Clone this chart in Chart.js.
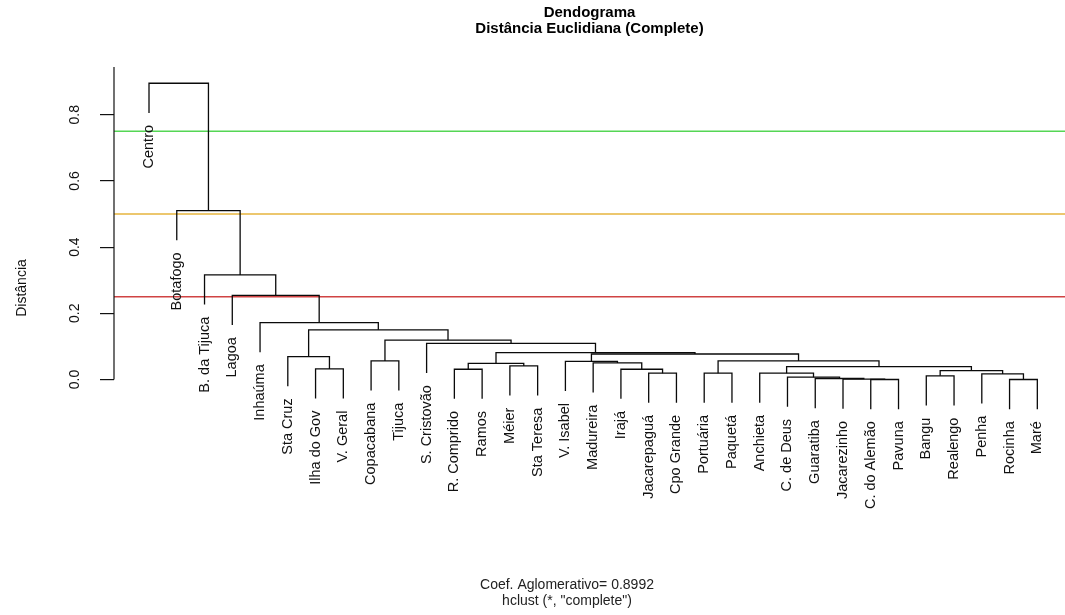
<!DOCTYPE html>
<html>
<head>
<meta charset="utf-8">
<script src="https://cdn.jsdelivr.net/npm/chart.js@4.4.1/dist/chart.umd.min.js"></script>
<style>
  html, body { margin: 0; padding: 0; background: #ffffff; }
  #wrap { width: 1065px; height: 615px; position: relative; }
</style>
</head>
<body>
<div id="wrap"><canvas id="c" width="1065" height="615"></canvas></div>
<script>
// ---------------- DATA ----------------
const titleLines = ["Dendograma", "Distância Euclidiana (Complete)"];
const subLines = ["Coef. Aglomerativo= 0.8992", 'hclust (*, "complete")'];
const yAxisTitle = "Distância";
const yTickValues = [0, 0.2, 0.4, 0.6, 0.8];

// leaves in plotted order (left to right)
const leafLabels = ["Centro", "Botafogo", "B. da Tijuca", "Lagoa", "Inhaúma", "Sta Cruz",
  "Ilha do Gov", "V. Geral", "Copacabana", "Tijuca", "S. Cristovão", "R. Comprido", "Ramos",
  "Méier", "Sta Teresa", "V. Isabel", "Madureira", "Irajá", "Jacarepaguá", "Cpo Grande",
  "Portuária", "Paquetá", "Anchieta", "C. de Deus", "Guaratiba", "Jacarezinho", "C. do Alemão",
  "Pavuna", "Bangu", "Realengo", "Penha", "Rocinha", "Maré"];

// merges: a string is a leaf, a number is an earlier merge
const mergeLeft = ["C. do Alemão", "Rocinha", "Jacarezinho", "Guaratiba", "C. de Deus", "Bangu",
  "Penha", "Anchieta", "Portuária", "Jacarepaguá", 5, "R. Comprido", "Irajá", "Ilha do Gov", 7,
  "Méier", 11, "Madureira", "V. Isabel", 8, "Copacabana", "Sta Cruz", 18, 16, "S. Cristovão",
  20, 21, "Inhaúma", "Lagoa", "B. da Tijuca", "Botafogo", "Centro"];
const mergeRight = ["Pavuna", "Maré", 0, 2, 3, "Realengo", 1, 4, "Paquetá", "Cpo Grande", 6,
  "Ramos", 9, "V. Geral", 10, "Sta Teresa", 15, 12, 17, 14, "Tijuca", 13, 19, 22, 23, 24, 25,
  26, 27, 28, 29, 30];
const mergeHeights = [0.000, 0.000, 0.001, 0.003, 0.007, 0.011, 0.017, 0.019, 0.019, 0.019,
  0.027, 0.031, 0.031, 0.032, 0.039, 0.041, 0.049, 0.050, 0.055, 0.056, 0.056, 0.069, 0.077,
  0.081, 0.109, 0.119, 0.150, 0.172, 0.254, 0.316, 0.510, 0.895];

const cutHeights = [0.75, 0.5, 0.25];
const cutColors = ["#55d655", "#e6b43e", "#d04343"];
const hangFraction = 0.1;

// ---------------- LAYOUT HELPERS ----------------
const FONT = "'Liberation Sans', Arial, Helvetica, sans-serif";
const X_MIN = -0.261, X_MAX = 33.997;
const Y_MIN = -0.3912, Y_MAX = 0.9441;
const SUB_X = 567, SUB_Y0 = 585, SUB_LINE = 16;

const hang = hangFraction * (Math.max(...mergeHeights) - Math.min(...mergeHeights));
const nodeX = [];
const leafEnd = new Array(leafLabels.length).fill(0);
function posOf(c) { return typeof c === 'string' ? leafLabels.indexOf(c) + 1 : nodeX[c]; }
mergeLeft.forEach((a, k) => {
  const b = mergeRight[k];
  nodeX[k] = (posOf(a) + posOf(b)) / 2;
  [a, b].forEach(c => { if (typeof c === 'string') leafEnd[leafLabels.indexOf(c)] = mergeHeights[k] - hang; });
});

const dendroSets = mergeLeft.map((a, k) => {
  const b = mergeRight[k], h = mergeHeights[k];
  const top = c => typeof c === 'string' ? h - hang : mergeHeights[c];
  return {
    data: [{x: posOf(a), y: top(a)}, {x: posOf(a), y: h}, {x: posOf(b), y: h}, {x: posOf(b), y: top(b)}],
    showLine: true, borderColor: '#0a0a0a', borderWidth: 1.3, pointRadius: 0, tension: 0, fill: false
  };
});

const cutSets = cutHeights.map((h, i) => ({
  data: [{x: X_MIN, y: h}, {x: X_MAX, y: h}],
  showLine: true, borderColor: cutColors[i], borderWidth: 1.3, pointRadius: 0, fill: false
}));

const axisSet = {
  data: [{x: X_MIN, y: yTickValues[0]}, {x: X_MIN, y: 1.0}],
  showLine: true, borderColor: '#111', borderWidth: 1.2, pointRadius: 0, fill: false,
  clip: {left: 4, top: 0, right: 0, bottom: 0}
};

const textPlugin = {
  id: 'dendroText',
  afterDatasetsDraw(chart) {
    const {ctx, scales: {x, y}} = chart;
    ctx.save();
    ctx.font = "14.5px " + FONT;
    const gap = ctx.measureText('m').width;
    ctx.fillStyle = '#111';
    ctx.textAlign = 'right';
    ctx.textBaseline = 'middle';
    leafLabels.forEach((lab, i) => {
      const px = x.getPixelForValue(i + 1);
      const py = y.getPixelForValue(leafEnd[i]) + gap;
      ctx.save();
      ctx.translate(px, py);
      ctx.rotate(-Math.PI / 2);
      ctx.fillText(lab, 0, 0);
      ctx.restore();
    });
    // bottom annotation lines
    ctx.font = "14px " + FONT;
    ctx.fillStyle = '#222';
    ctx.textAlign = 'center';
    subLines.forEach((t, i) => ctx.fillText(t, SUB_X, SUB_Y0 + i * SUB_LINE));
    ctx.restore();
  }
};

new Chart(document.getElementById('c'), {
  type: 'scatter',
  data: { datasets: [...dendroSets, axisSet, ...cutSets] },
  options: {
    responsive: false,
    animation: false,
    devicePixelRatio: 1,
    events: [],
    layout: { padding: { left: 0, right: 0, top: 0, bottom: 106 } },
    plugins: {
      legend: { display: false },
      tooltip: { enabled: false },
      title: {
        display: true, text: titleLines, fullSize: false, color: '#000',
        font: { family: FONT, size: 15, weight: 'bold', lineHeight: '16px' },
        padding: { top: 5, bottom: 30 }
      }
    },
    scales: {
      x: { type: 'linear', display: false, min: X_MIN, max: X_MAX },
      y: {
        type: 'linear', position: 'left', min: Y_MIN, max: Y_MAX,
        afterBuildTicks: s => { s.ticks = yTickValues.map(v => ({ value: v })); },
        afterFit: s => { s.width = 114; },
        ticks: {
          autoSkip: false, minRotation: 90, maxRotation: 90, crossAlign: 'center', padding: 15,
          color: '#111', font: { family: FONT, size: 14 },
          callback: v => Number(v).toFixed(1)
        },
        grid: { display: true, drawOnChartArea: false, drawTicks: true, tickLength: 14, color: '#111', lineWidth: 1.2 },
        border: { display: false },
        title: {
          display: true, text: yAxisTitle, color: '#111',
          font: { family: FONT, size: 14 }, padding: { top: 13.6, bottom: 0 }
        }
      }
    }
  },
  plugins: [textPlugin]
});
</script>
</body>
</html>
